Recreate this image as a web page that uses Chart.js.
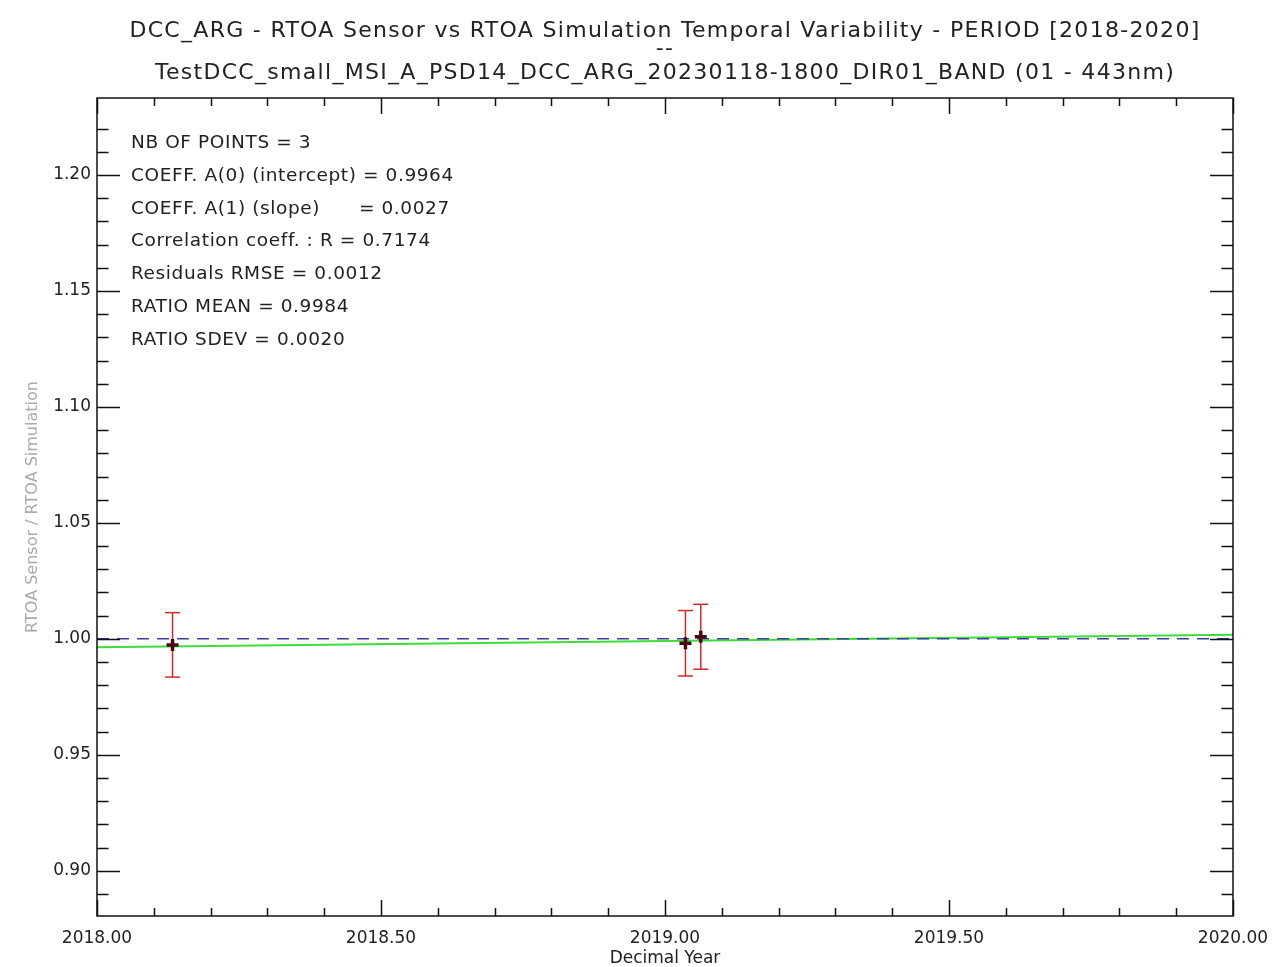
<!DOCTYPE html>
<html>
<head>
<meta charset="utf-8">
<title>DCC_ARG RTOA Sensor vs RTOA Simulation</title>
<script src="https://cdn.jsdelivr.net/npm/chart.js@4/dist/chart.umd.min.js"></script>
<style>
  html, body { margin: 0; padding: 0; background: #fff; }
  #wrap { width: 1276px; height: 967px; }
</style>
</head>
<body>
<div id="wrap"><canvas id="ratioChart" width="1276" height="967"></canvas></div>
<script>
// Measured ratio points (decimal year, ratio, 1-sigma)
const pointYears = [2018.133, 2019.036, 2019.063];
const ratioValues = [0.9974, 0.9981, 1.0009];
const ratioErrors = [0.0139, 0.0141, 0.0140];

// Linear fit A(0) + A(1)*(t - 2018), drawn between the period ends
const fitYears = [2018.0, 2020.0];
const fitValues = [0.9964, 1.0018];

// Reference ratio = 1
const unityYears = [2018.0, 2020.0];
const unityValues = [1.0, 1.0];

// Axis ranges and tick steps
const xMin = 2018.0, xMax = 2020.0, xMajor = 0.5, xMinor = 0.1;
const yMin = 0.8805, yMax = 1.2332, yMajor = 0.05, yMinor = 0.01;

const titleLines = [
  'DCC_ARG - RTOA Sensor vs RTOA Simulation Temporal Variability - PERIOD [2018-2020]',
  '--',
  'TestDCC_small_MSI_A_PSD14_DCC_ARG_20230118-1800_DIR01_BAND (01 - 443nm)'
];

const statLines = [
  'NB OF POINTS = 3',
  'COEFF. A(0) (intercept) = 0.9964',
  'COEFF. A(1) (slope)      = 0.0027',
  'Correlation coeff. : R = 0.7174',
  'Residuals RMSE = 0.0012',
  'RATIO MEAN = 0.9984',
  'RATIO SDEV = 0.0020'
];

const FONT = 'DejaVu Sans';
const INK = '#222';

function onStep(v, step) {
  const q = v / step;
  return Math.abs(q - Math.round(q)) < 1e-6;
}

// IDL-style frame with inward major/minor ticks on all four sides
const axisFrame = {
  id: 'axisFrame',
  afterDatasetsDraw(chart) {
    const { ctx, chartArea: a, scales: { x, y } } = chart;
    ctx.save();
    ctx.strokeStyle = '#111';
    ctx.lineWidth = 1.5;
    ctx.strokeRect(a.left, a.top, a.right - a.left, a.bottom - a.top);
    ctx.beginPath();
    x.ticks.forEach(t => {
      if (!onStep(t.value, xMinor)) return;
      const px = Math.round(x.getPixelForValue(t.value)) + 0.5;
      const len = onStep(t.value, xMajor) ? 16 : 8;
      ctx.moveTo(px, a.bottom); ctx.lineTo(px, a.bottom - len);
      ctx.moveTo(px, a.top); ctx.lineTo(px, a.top + len);
    });
    y.ticks.forEach(t => {
      if (!onStep(t.value, yMinor)) return;
      const py = Math.round(y.getPixelForValue(t.value)) + 0.5;
      const len = onStep(t.value, yMajor) ? 23 : 11.5;
      ctx.moveTo(a.left, py); ctx.lineTo(a.left + len, py);
      ctx.moveTo(a.right, py); ctx.lineTo(a.right - len, py);
    });
    ctx.stroke();
    ctx.restore();
  }
};

// Title block and fit statistics (wide letter spacing like the IDL font)
const textBlocks = {
  id: 'textBlocks',
  afterDraw(chart) {
    const { ctx, chartArea: a } = chart;
    const cx = (a.left + a.right) / 2;
    ctx.save();
    ctx.fillStyle = INK;
    ctx.textBaseline = 'middle';
    ctx.textAlign = 'center';
    ctx.font = '22px "' + FONT + '"';
    ctx.letterSpacing = '1.3px';
    const titleY = [31, 49, 73];
    titleLines.forEach((s, i) => ctx.fillText(s, cx, titleY[i]));

    ctx.textAlign = 'left';
    ctx.font = '18.5px "' + FONT + '"';
    ctx.letterSpacing = '0.6px';
    statLines.forEach((s, i) => ctx.fillText(s, a.left + 34, a.top + 45.5 + i * 32.7));
    ctx.restore();
  }
};

const datasets = [];

// points first so they end up drawn on top
datasets.push({
  label: 'Ratio',
  data: pointYears.map((x, i) => ({ x, y: ratioValues[i] })),
  showLine: false,
  pointStyle: 'cross',
  pointRadius: 6,
  pointBorderWidth: 3.5,
  pointBorderColor: '#4a0812',
  pointBackgroundColor: '#4a0812'
});

// error bars: one vertical segment per point, caps as horizontal line markers
pointYears.forEach((x, i) => {
  datasets.push({
    label: 'err' + i,
    data: [{ x, y: ratioValues[i] - ratioErrors[i] }, { x, y: ratioValues[i] + ratioErrors[i] }],
    borderColor: '#cf2a2a',
    borderWidth: 1.5,
    pointStyle: 'line',
    pointRadius: 7.5,
    pointBorderWidth: 1.5,
    pointBorderColor: '#cf2a2a'
  });
});

datasets.push({
  label: 'Unity',
  data: unityYears.map((x, i) => ({ x, y: unityValues[i] })),
  borderColor: '#3d3d9e',
  borderWidth: 1.5,
  borderDash: [12, 8],
  pointRadius: 0
});

datasets.push({
  label: 'Fit',
  data: fitYears.map((x, i) => ({ x, y: fitValues[i] })),
  borderColor: '#3cdc3c',
  borderWidth: 2,
  pointRadius: 0
});

new Chart(document.getElementById('ratioChart'), {
  type: 'line',
  data: { datasets },
  options: {
    responsive: false,
    devicePixelRatio: 1,
    animation: false,
    events: [],
    layout: { padding: { left: 0, right: 43, top: 98, bottom: 0 } },
    plugins: {
      legend: { display: false },
      tooltip: { enabled: false },
      title: { display: false }
    },
    scales: {
      x: {
        type: 'linear',
        min: xMin,
        max: xMax,
        afterFit(s) {
          s.height = 51;
          s.paddingLeft = 0;
          s.paddingRight = 0;
        },
        grid: { display: false, drawTicks: false },
        border: { display: false },
        ticks: {
          stepSize: xMinor,
          autoSkip: false,
          maxRotation: 0,
          padding: 12,
          color: INK,
          font: { family: FONT, size: 17 },
          callback: v => onStep(v, xMajor) ? v.toFixed(2) : ''
        },
        title: {
          display: true,
          text: 'Decimal Year',
          color: INK,
          font: { family: FONT, size: 17, lineHeight: 1 },
          padding: 0
        }
      },
      y: {
        type: 'linear',
        min: yMin,
        max: yMax,
        afterFit(s) { s.width = 97; },
        grid: { display: false, drawTicks: false },
        border: { display: false },
        ticks: {
          stepSize: yMinor,
          autoSkip: false,
          padding: 6,
          color: INK,
          font: { family: FONT, size: 17 },
          callback: v => onStep(v, yMajor) ? v.toFixed(2) : ''
        },
        title: {
          display: true,
          text: 'RTOA Sensor / RTOA Simulation',
          color: '#aaaaaa',
          font: { family: FONT, size: 16 },
          padding: { top: 23, bottom: 0 }
        }
      }
    }
  },
  plugins: [axisFrame, textBlocks]
});
</script>
</body>
</html>
